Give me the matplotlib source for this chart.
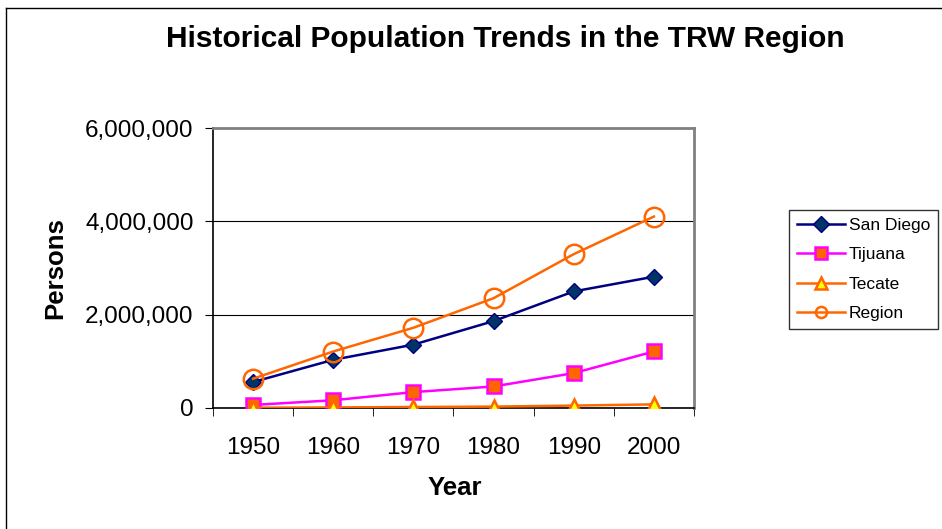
import matplotlib.pyplot as plt
from matplotlib.lines import Line2D
import numpy as np

plt.rcParams['font.family'] = ['Liberation Sans', 'DejaVu Sans']

# Datos (censos)
years = ['1950', '1960', '1970', '1980', '1990', '2000']
san_diego = [556808, 1033011, 1357854, 1861846, 2498016, 2813833]
tijuana = [65364, 165690, 340583, 461257, 747381, 1210820]
tecate = [6000, 12000, 21000, 30000, 51557, 77795]
region = [a + b + c for a, b, c in zip(san_diego, tijuana, tecate)]

x = np.arange(len(years))

fig = plt.figure(figsize=(9.42, 5.29), dpi=100)
ax = fig.add_axes([213 / 942, 1 - 408 / 529, (694 - 213) / 942, (408 - 128) / 529])

# Series
ax.plot(x, san_diego, color='#000080', lw=1.8, marker='D', ms=8,
        mfc='#003366', mec='#000080', label='San Diego', zorder=4)
ax.plot(x, tijuana, color='#FF00FF', lw=1.8, marker='s', ms=10,
        mfc='#FF6600', mec='#FF00FF', mew=1.8, label='Tijuana', zorder=4)
ax.plot(x, tecate, color='#FF6600', lw=1.8, marker='^', ms=10,
        mfc='#FFFF00', mec='#FF6600', mew=1.8, label='Tecate', zorder=5)
ax.plot(x, region, color='#FF6600', lw=1.8, marker='o', ms=14,
        mfc='none', mec='#FF6600', mew=1.8, label='Region', zorder=4)

# Ejes
ax.set_xlim(-0.5, 5.5)
ax.set_ylim(0, 6000000)
ax.set_yticks([0, 2000000, 4000000, 6000000])
ax.set_yticklabels(['0', '2,000,000', '4,000,000', '6,000,000'], fontsize=17.5)
ax.set_xticks(x)
ax.set_xticklabels(years, fontsize=17.5)
ax.tick_params(axis='x', length=0, pad=21)
ax.set_xticks(np.arange(-0.5, 6, 1), minor=True)
ax.tick_params(axis='x', which='minor', length=6, direction='out', color='black')
ax.tick_params(axis='y', length=6, direction='out', pad=8)
ax.grid(axis='y', color='black', lw=0.8)
ax.set_axisbelow(True)

for s in ['top', 'right']:
    ax.spines[s].set_color('#808080')
    ax.spines[s].set_linewidth(2)
for s in ['left', 'bottom']:
    ax.spines[s].set_color('black')
    ax.spines[s].set_linewidth(1.2)

# Textos
fig.text(505 / 942, 1 - 39 / 529, 'Historical Population Trends in the TRW Region',
         fontsize=21.5, fontweight='bold', ha='center', va='center')
fig.text(455 / 942, 1 - 488 / 529, 'Year', fontsize=18.5, fontweight='bold',
         ha='center', va='center')
fig.text(55 / 942, 1 - 268 / 529, 'Persons', fontsize=18.5, fontweight='bold',
         ha='center', va='center', rotation=90)

# Leyenda
leg = fig.legend(loc='upper left', bbox_to_anchor=(789 / 942, 1 - 210 / 529),
                 fontsize=12.5, frameon=True, fancybox=False, edgecolor='black',
                 handlelength=2.8, labelspacing=0.82, borderpad=0.45,
                 handletextpad=0.2, borderaxespad=0)
leg.get_frame().set_linewidth(1.0)
for h in leg.legend_handles:
    h.set_markersize(min(h.get_markersize(), 8))

# Marco de la figura (solo visible arriba e izquierda)
fig.add_artist(Line2D([6 / 942, 6 / 942], [0, 1 - 8 / 529], color='black', lw=1))
fig.add_artist(Line2D([6 / 942, 1], [1 - 8 / 529, 1 - 8 / 529], color='black', lw=1))

fig.savefig('out.png', dpi=100)
